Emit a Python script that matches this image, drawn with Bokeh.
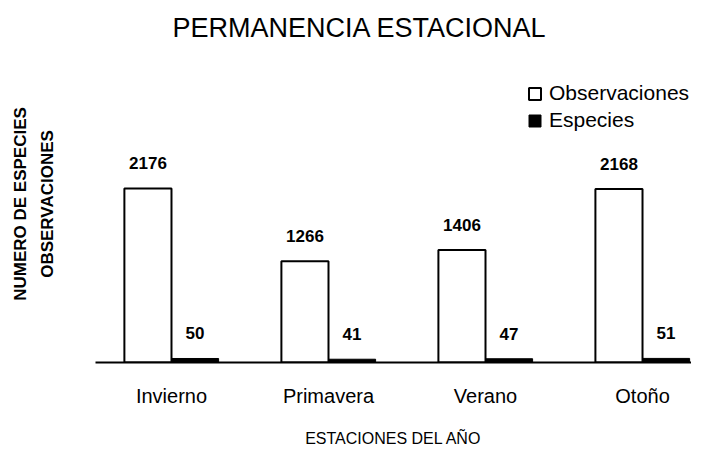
from bokeh.plotting import figure
from bokeh.models import (Range1d, FixedTicker, LabelSet, ColumnDataSource,
                          Legend, LegendItem, LinearAxis)
from bokeh.core.properties import value
from bokeh.embed import file_html
from bokeh.resources import INLINE

# ---- data ----
seasons = ["Invierno", "Primavera", "Verano", "Otoño"]
observaciones = [2176, 1266, 1406, 2168]
especies = [50, 41, 47, 51]
title_text = "PERMANENCIA ESTACIONAL"
x_title = "ESTACIONES DEL AÑO"
y_title_1 = "NUMERO DE ESPECIES"
y_title_2 = "OBSERVACIONES"

FONT = "Liberation Sans"
BW = 0.30

xs = list(range(len(seasons)))
src = ColumnDataSource(dict(
    x_obs=[x - BW / 2 for x in xs],
    x_esp=[x + BW / 2 for x in xs],
    obs=observaciones,
    esp=especies,
    obs_txt=[str(v) for v in observaciones],
    esp_txt=[str(v) for v in especies],
))

p = figure(width=691, height=452, output_backend="svg", toolbar_location=None,
           x_range=Range1d(-0.484, 3.312), y_range=Range1d(0, 3962),
           min_border_left=95, min_border_right=0, min_border_top=45,
           min_border_bottom=90)
p.outline_line_color = None
p.xgrid.visible = False
p.ygrid.visible = False

# title
p.title.text = title_text
p.title.align = "left"
p.title.offset = 77
p.title.standoff = 6
p.title.text_font = FONT
p.title.text_font_size = "27px"
p.title.text_font_style = "normal"
p.title.text_color = "black"

r_obs = p.vbar(x="x_obs", top="obs", width=BW, bottom=0, source=src,
               fill_color="white", line_color="black", line_width=2)
r_esp = p.vbar(x="x_esp", top="esp", width=BW, bottom=0, source=src,
               fill_color="black", line_color="black", line_width=1)

for col_x, col_y, col_t in (("x_obs", "obs", "obs_txt"), ("x_esp", "esp", "esp_txt")):
    p.add_layout(LabelSet(x=col_x, y=col_y, text=col_t, source=src, y_offset=19,
                          text_align="center", text_baseline="alphabetic",
                          text_font=value(FONT), text_font_size=value("17px"),
                          text_font_style="bold", text_color="black"))

# x axis
ax = p.xaxis[0]
ax.ticker = FixedTicker(ticks=xs)
ax.major_label_overrides = {i: s for i, s in enumerate(seasons)}
ax.major_tick_in = 0
ax.major_tick_out = 0
ax.minor_tick_line_color = None
ax.major_tick_line_color = None
ax.axis_line_width = 2
ax.axis_line_color = "black"
ax.major_label_standoff = 22
ax.major_label_text_font = FONT
ax.major_label_text_font_size = "20px"
ax.major_label_text_color = "black"
ax.axis_label = x_title
ax.axis_label_text_font = FONT
ax.axis_label_text_font_size = "16px"
ax.axis_label_text_font_style = "normal"
ax.axis_label_text_color = "black"
ax.axis_label_standoff = 20


def style_title_axis(a, label, standoff):
    a.ticker = FixedTicker(ticks=[])
    a.axis_line_color = None
    a.major_tick_line_color = None
    a.minor_tick_line_color = None
    a.major_tick_in = 0
    a.major_tick_out = 0
    a.axis_label = label
    a.axis_label_standoff = standoff
    a.axis_label_text_font = FONT
    a.axis_label_text_font_size = "17px"
    a.axis_label_text_font_style = "bold"
    a.axis_label_text_color = "black"


style_title_axis(p.yaxis[0], y_title_2, 39)
outer = LinearAxis()
style_title_axis(outer, y_title_1, 5)
p.add_layout(outer, "left")

legend = Legend(items=[LegendItem(label="Observaciones", renderers=[r_obs]),
                       LegendItem(label="Especies", renderers=[r_esp])],
                location=(432, 230), glyph_width=15, glyph_height=15,
                label_text_font=FONT, label_text_font_size="21px",
                label_text_color="black",
                label_standoff=7, spacing=3, padding=0, margin=0,
                border_line_color=None, background_fill_alpha=0,
                label_height=20)
p.add_layout(legend, "center")

open("out.html", "w").write(file_html(p, INLINE))
